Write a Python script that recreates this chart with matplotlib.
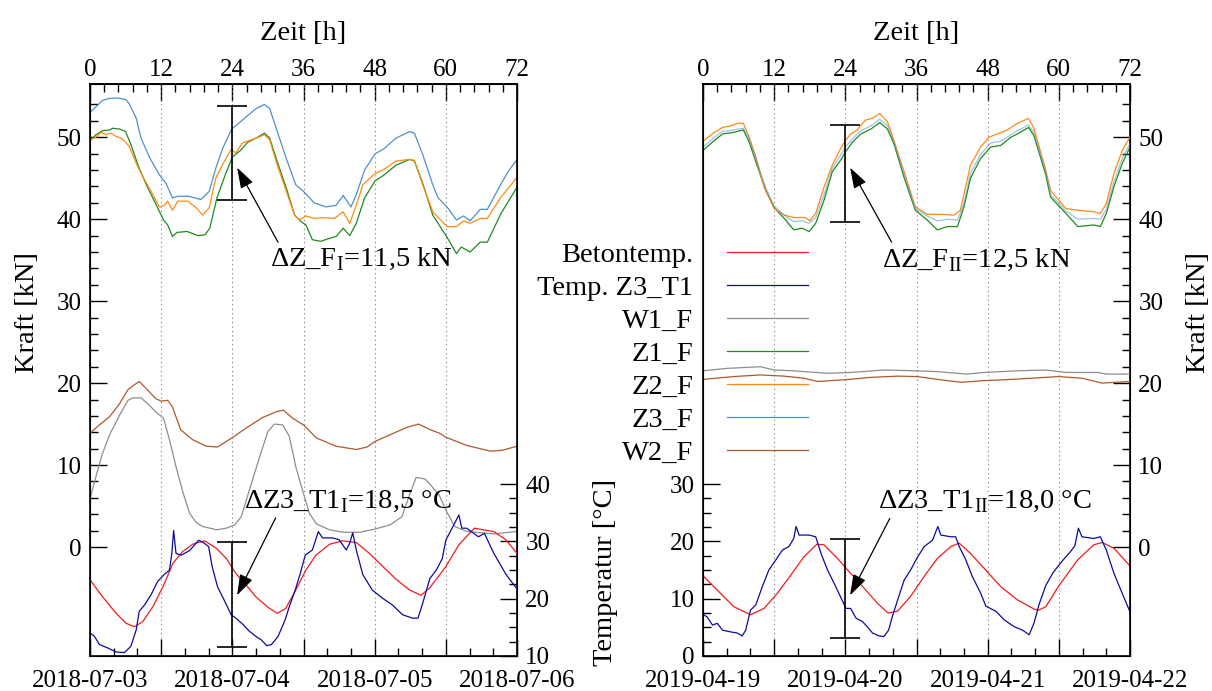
import matplotlib
matplotlib.use("Agg")
import matplotlib.pyplot as plt
from matplotlib.ticker import FixedLocator, MultipleLocator

plt.rcParams['font.family'] = ['Liberation Serif', 'DejaVu Serif']
plt.rcParams['mathtext.fontset'] = 'custom'
plt.rcParams['mathtext.rm'] = 'Liberation Serif'
plt.rcParams['font.size'] = 20.5
TICK_FS = 18

# ---------------------------------------------------------------------------
# data: (hour, value) pairs
# ---------------------------------------------------------------------------
# panel I: 2018-07-03 .. 2018-07-06
L_DATES = ['2018-07-03', '2018-07-04', '2018-07-05', '2018-07-06']
L_BETON = [(0, 23.3), (2.1, 20.35), (4.4, 17.45), (6.1, 15.7), (7.5, 15.1), (8.9, 16.0),
           (10.6, 18.6), (12.3, 22.1), (14, 26.2), (15.6, 28.2), (17.3, 29.5), (19.3, 30.1),
           (21.3, 28.8), (23, 27.0), (24.6, 24.4), (26.3, 22.4), (28, 20.3), (30, 18.5),
           (31.6, 17.45), (33, 18.3), (34.7, 21.5), (36.4, 25.0), (38.1, 27.6), (40.4, 29.5),
           (42.6, 30.1), (44.9, 29.8), (47.1, 27.9), (49.4, 25.6), (51.6, 23.4), (53.9, 21.5),
           (55.8, 20.6), (57.2, 21.8), (58.7, 23.8), (60, 25.6), (62.2, 29.4), (64.8, 32.3),
           (68.1, 31.7), (70.1, 30.3), (72, 27.9)]
L_T1 = [(0, 14.0), (0.7, 13.5), (1.6, 12.0), (3, 11.4), (4.4, 10.7), (5.8, 10.6), (6.9, 11.7),
        (7.8, 14.6), (8.3, 17.8), (9.2, 18.9), (10.3, 20.7), (11.4, 23.0), (12.5, 24.2),
        (13.4, 25.0), (13.8, 27.9), (14.1, 31.9), (14.5, 27.9), (15.4, 27.6), (16.8, 28.4),
        (18.3, 30.2), (19.1, 29.8), (20, 29.1), (20.6, 25.6), (21.5, 22.1), (22.6, 19.8),
        (23.8, 17.2), (24.6, 16.6), (25.8, 15.5), (26.9, 14.3), (28, 13.4), (28.9, 12.8),
        (29.8, 11.8), (30.6, 12.0), (31.7, 13.4), (32.9, 16.3), (33.7, 18.9), (34.6, 21.5),
        (35.4, 24.2), (36.3, 27.6), (37.5, 28.5), (38.5, 31.7), (39.2, 30.6), (40.9, 30.6),
        (42, 30.3), (43.2, 28.5), (43.8, 29.7), (44.3, 31.5), (44.9, 28.5), (46, 24.2),
        (47.6, 21.5), (49.3, 20.1), (51, 18.9), (52.7, 17.2), (54.4, 16.6), (55.3, 16.6),
        (56.1, 19.2), (57.3, 23.5), (58.4, 25.0), (59.4, 27.0), (60, 30.2), (62.2, 34.6),
        (62.7, 32.3), (63.5, 32.3), (65.5, 30.8), (66.5, 31.4), (68.1, 27.9), (70.1, 24.3),
        (72, 21.7)]
L_W1F = [(0, 5.9), (1, 8.6), (2.1, 11.4), (3.3, 13.7), (5, 16.1), (6.4, 17.9), (7.2, 18.2),
         (8.6, 18.2), (9.7, 17.5), (11.1, 16.5), (12.4, 15.7), (13.4, 13.1), (14.5, 9.8),
         (15.7, 6.6), (16.8, 4.1), (17.9, 3.0), (19, 2.5), (21.4, 2.1), (23, 2.3), (24.4, 2.7),
         (25.5, 3.7), (26.9, 7.0), (28.6, 11.0), (30, 14.1), (31.1, 15.0), (32.5, 14.9),
         (33.6, 13.5), (34.7, 9.8), (35.8, 7.0), (37, 4.1), (38.2, 2.8), (40.4, 2.1),
         (42.7, 1.8), (45.5, 1.8), (48.1, 2.2), (50.6, 2.7), (52.6, 3.7), (54, 6.6), (55, 8.5),
         (56.5, 8.3), (57.4, 7.6), (58.9, 6.3), (60, 4.5), (61.5, 2.5), (63.5, 1.9),
         (68.1, 1.6), (72, 1.9)]
L_Z1F = [(0, 49.6), (1, 50.3), (2.1, 50.8), (3.3, 50.9), (3.8, 51.1), (5, 51.0), (6, 50.7),
         (6.9, 49.1), (8.1, 46.6), (9.5, 44.2), (11.2, 41.7), (12.4, 39.9), (13.1, 39.3),
         (13.9, 37.9), (14.7, 38.4), (16.4, 38.5), (18.2, 38.0), (19.4, 38.1), (20.2, 38.9),
         (21.4, 42.6), (22.8, 45.4), (24, 47.6), (25.4, 48.4), (26.6, 49.4), (28, 49.9),
         (29.4, 50.5), (30.3, 49.9), (31.4, 47.4), (33.1, 43.8), (34.5, 40.5), (35.6, 39.7),
         (36.4, 39.3), (37.5, 37.5), (38.9, 37.3), (40.1, 37.6), (41.5, 37.9), (42.7, 38.9),
         (43.8, 38.0), (44.9, 39.5), (46.3, 42.6), (48.1, 44.7), (49.4, 45.3), (51.6, 46.6),
         (53.9, 47.3), (54.7, 47.1), (56.1, 44.4), (57.8, 40.5), (60.2, 37.8), (61.8, 35.8),
         (62.6, 36.6), (64.1, 36.0), (65.8, 37.2), (67, 37.2), (69.3, 40.7), (72, 43.9)]
L_Z2F = [(0, 49.7), (1, 50.0), (1.9, 50.6), (2.7, 50.3), (3.5, 50.5), (4.4, 50.1), (5.5, 49.8),
         (6.6, 48.9), (7.8, 46.8), (8.9, 45.2), (10.3, 43.4), (11.7, 41.5), (12.5, 41.7),
         (13.1, 42.2), (13.9, 41.1), (14.8, 42.2), (16.5, 42.2), (17.9, 41.4), (19, 40.5),
         (20.1, 41.4), (21.2, 45.0), (22.6, 47.0), (23.8, 48.5), (24.6, 48.1), (25.7, 49.3),
         (28, 49.9), (29.4, 50.3), (30.3, 49.7), (31.4, 47.0), (33.1, 43.4), (34.5, 40.5),
         (35.3, 39.9), (36.4, 40.4), (37.8, 40.1), (39.2, 40.2), (41.2, 40.1), (42.7, 40.9),
         (43.8, 39.5), (44.9, 41.7), (46, 44.2), (48.1, 45.6), (49.4, 46.0), (51.6, 47.1),
         (53.9, 47.3), (54.7, 47.2), (56.1, 44.2), (57.8, 40.9), (60.2, 39.1), (61.8, 39.1),
         (63, 39.8), (64.1, 39.5), (65.8, 40.1), (67, 40.1), (69.3, 42.7), (72, 45.1)]
L_Z3F = [(0, 53.0), (1, 53.7), (2.1, 54.5), (3.3, 54.75), (4.7, 54.8), (6, 54.6), (6.6, 54.1),
         (7.8, 52.3), (8.6, 49.9), (10, 47.6), (11.7, 45.4), (12.8, 44.4), (13.9, 42.6),
         (14.8, 42.8), (16.7, 42.8), (18.7, 42.4), (20.1, 43.4), (21.2, 46.2), (22.4, 48.7),
         (23.9, 51.0), (25.7, 52.1), (28, 53.5), (29.4, 54.0), (30.3, 53.5), (31.4, 51.1),
         (33.1, 47.4), (34.7, 44.2), (36, 43.4), (37.8, 42.0), (39.8, 41.5), (41.5, 41.7),
         (42.7, 42.9), (44, 41.5), (44.9, 43.0), (46.3, 46.0), (48.1, 48.0), (49.4, 48.5),
         (51.6, 49.9), (53.9, 50.7), (54.7, 50.5), (56.1, 47.9), (57.8, 44.2), (58.7, 42.6),
         (60.2, 41.5), (61.8, 39.9), (63, 40.4), (64.1, 39.8), (65.8, 41.2), (67, 41.2),
         (69.3, 44.3), (70.5, 45.8), (72, 47.3)]
L_W2F = [(0, 13.9), (1.6, 14.9), (3.3, 15.9), (5, 17.5), (6.4, 19.2), (7.5, 19.8), (8.3, 20.2),
         (9.4, 19.4), (11.1, 18.1), (12, 17.8), (13.1, 17.9), (13.9, 17.1), (15.3, 14.3),
         (17.3, 13.1), (19.6, 12.3), (21.5, 12.2), (23.9, 13.3), (26.3, 14.5), (29.1, 15.8),
         (31.4, 16.5), (32.6, 16.7), (34.2, 15.7), (36, 14.9), (38.2, 13.3), (41.5, 12.3),
         (44.9, 11.9), (46.7, 12.2), (48.1, 12.9), (50.6, 13.7), (53.4, 14.6), (55.4, 15.0),
         (57.4, 14.3), (58.9, 13.9), (60, 13.4), (63.5, 12.4), (67.5, 11.7), (69.5, 11.8),
         (72, 12.3)]

# panel II: 2019-04-19 .. 2019-04-22
R_DATES = ['2019-04-19', '2019-04-20', '2019-04-21', '2019-04-22']
R_BETON = [(0, 14.0), (2.4, 11.5), (5.2, 8.6), (8, 7.2), (10.3, 8.3), (12.5, 10.9), (14.8, 14.1),
           (17, 17.3), (19.2, 19.5), (20.4, 19.4), (22.7, 17.0), (24.9, 14.4), (27.2, 11.8),
           (29.4, 9.2), (31.2, 7.5), (32.8, 7.8), (35, 10.4), (37.3, 13.9), (39.5, 17.0),
           (41.8, 19.1), (43.2, 19.7), (45.1, 17.9), (47.4, 15.3), (50.2, 12.1), (53, 9.8),
           (55.8, 8.2), (56.6, 8.0), (57.8, 8.6), (59.9, 12.1), (63.2, 16.8), (65.9, 19.4),
           (67.3, 19.8), (69.3, 18.8), (72, 15.7)]
R_T1 = [(0, 7.3), (0.7, 6.8), (1.6, 5.4), (2.4, 5.7), (3.3, 4.5), (4.7, 4.2), (5.8, 4.0),
        (6.6, 3.5), (7.2, 4.5), (8, 8.0), (8.9, 8.9), (10, 12.1), (11.1, 15.0), (12.3, 16.8),
        (13.4, 18.5), (14.5, 19.1), (15.3, 20.5), (15.7, 22.6), (16.2, 21.1), (17.9, 21.1),
        (19, 20.8), (19.9, 17.9), (21, 15.0), (22.1, 12.7), (23.2, 10.3), (24.1, 8.3),
        (24.9, 8.3), (25.8, 6.6), (26.9, 6.0), (27.7, 5.1), (28.6, 4.0), (29.7, 3.5),
        (30.5, 3.4), (31.3, 4.5), (31.9, 6.8), (32.8, 9.7), (33.9, 13.2), (35, 15.0),
        (36.2, 17.3), (37.3, 19.1), (38.7, 20.2), (39.6, 22.6), (40.1, 21.1), (41.8, 20.8),
        (42.6, 20.8), (43.2, 19.1), (44.3, 16.8), (45.4, 13.9), (46.8, 11.0), (47.7, 8.7),
        (49.4, 7.8), (50.8, 6.3), (52.5, 5.1), (53.9, 4.5), (55, 3.7), (55.8, 5.7),
        (56.7, 9.1), (57.8, 12.3), (59, 14.5), (60.5, 16.5), (61.8, 18.0), (62.7, 19.2),
        (63.3, 22.3), (63.9, 20.8), (65.9, 20.5), (67, 20.8), (68, 18.5), (69.3, 14.4),
        (70.7, 10.9), (72, 7.7)]
R_W1F = [(0, 21.5), (4.1, 21.8), (9.7, 22.0), (12, 21.6), (15.3, 21.5), (20.9, 21.2),
         (24.9, 21.3), (30.5, 21.6), (36.1, 21.5), (39.5, 21.4), (44.5, 21.1), (47.4, 21.3),
         (53, 21.5), (57.8, 21.6), (61.2, 21.3), (66.6, 21.3), (68, 21.1), (72, 21.1)]
R_Z1F = [(0, 48.4), (1.9, 49.6), (3.3, 50.4), (5.2, 50.6), (6.8, 50.9), (7.8, 49.4), (9.2, 46.4),
         (10.6, 43.5), (12, 41.4), (13.7, 40.1), (15.3, 38.7), (16.7, 38.9), (17.9, 38.5),
         (19, 39.5), (20.4, 42.3), (21.8, 45.8), (23.2, 47.2), (24, 48.2), (25.2, 49.4),
         (26.6, 50.4), (28.3, 51.0), (29.8, 51.8), (31.1, 51.0), (32.2, 49.2), (33.9, 45.1),
         (35.8, 41.1), (37.8, 39.9), (39.5, 38.7), (41.2, 39.1), (42.9, 39.1), (44, 41.5),
         (45.1, 45.0), (46.8, 47.4), (48.5, 48.8), (50.2, 49.0), (51.9, 50.0), (53, 50.4),
         (54.9, 51.2), (55.8, 50.2), (57.8, 45.4), (58.6, 42.7), (61.2, 40.7), (63.2, 39.1),
         (65.9, 39.3), (67, 39.1), (68, 40.7), (69.3, 44.0), (70.7, 46.8), (72, 48.8)]
R_Z2F = [(0, 49.5), (1.9, 50.6), (3.3, 51.2), (4.7, 51.4), (5.8, 51.7), (6.8, 51.7), (7.8, 50.0),
         (8.9, 47.6), (10.3, 43.9), (12, 41.3), (13.7, 40.5), (15.3, 40.2), (17.3, 40.2),
         (18, 39.8), (19, 40.7), (20.4, 43.9), (21.8, 46.6), (23.2, 48.6), (24, 49.6),
         (24.9, 50.4), (26, 50.9), (27.4, 52.1), (28.5, 52.3), (29.8, 52.9), (31.1, 51.9),
         (32.2, 49.6), (33.9, 45.8), (35.8, 41.5), (37.8, 40.6), (40.1, 40.6), (42.3, 40.5),
         (43.4, 41.1), (45.1, 46.6), (46.8, 48.8), (48.2, 50.0), (49.6, 50.4), (51.3, 50.9),
         (53, 51.7), (54.9, 52.3), (55.8, 51.1), (57.8, 46.0), (58.6, 43.5), (61.2, 41.3),
         (63.2, 41.1), (65.9, 40.9), (67, 40.7), (68, 41.9), (69.3, 45.6), (70.7, 48.4),
         (72, 50.0)]
R_Z3F = [(0, 48.8), (1.9, 50.0), (3.3, 50.7), (5.2, 50.9), (6.8, 51.1), (7.8, 49.8), (9.2, 46.8),
         (10.6, 43.8), (12, 41.6), (13.7, 40.5), (15.3, 39.7), (16.7, 39.8), (17.9, 39.5),
         (19, 40.2), (20.4, 43.0), (21.8, 46.2), (23.2, 47.8), (24, 48.8), (25.2, 49.8),
         (26.6, 50.8), (28.3, 51.4), (29.8, 52.2), (31.1, 51.4), (32.2, 49.4), (33.9, 45.4),
         (35.8, 41.3), (37.8, 40.4), (39.5, 39.8), (41.2, 40.0), (42.9, 39.9), (44, 41.9),
         (45.1, 45.6), (46.8, 47.9), (48.5, 49.3), (50.2, 49.5), (51.9, 50.3), (53, 50.8),
         (54.9, 51.5), (55.8, 50.6), (57.8, 45.7), (58.6, 43.0), (61.2, 41.0), (63.2, 40.0),
         (65.9, 40.1), (67, 40.0), (68, 41.2), (69.3, 44.6), (70.7, 47.4), (72, 49.2)]
R_W2F = [(0, 20.45), (5.2, 20.8), (9.7, 21.0), (13.7, 20.85), (17, 20.6), (19.3, 20.2),
         (23.7, 20.4), (28.3, 20.7), (32.8, 20.85), (36.1, 20.8), (40.1, 20.4), (43.5, 20.1),
         (47.4, 20.3), (51.9, 20.45), (57.8, 20.7), (59.9, 20.8), (63.9, 20.6), (67.3, 20.0),
         (72, 20.2)]

# amplitude markers at t = 24 h (low, high)
L_F_RANGE, L_T_RANGE = (42.3, 53.8), (11.6, 29.9)
R_F_RANGE, R_T_RANGE = (39.7, 51.5), (3.1, 20.4)
L_F_TEXT = r'ΔZ_F$_{\mathrm{I}}$=11,5 kN'
L_T_TEXT = r'ΔZ3_T1$_{\mathrm{I}}$=18,5 °C'
R_F_TEXT = r'ΔZ_F$_{\mathrm{II}}$=12,5 kN'
R_T_TEXT = r'ΔZ3_T1$_{\mathrm{II}}$=18,0 °C'

LABELS = ['Betontemp.', 'Temp. Z3_T1', 'W1_F', 'Z1_F', 'Z2_F', 'Z3_F', 'W2_F']
COLORS = ['#f01c1c', '#0c0c9c', '#8e8e8e', '#1f8a1f', '#ff8a14', '#4f8fcf', '#b0582c']

HOURS_MAJOR = list(range(0, 73, 12))
FORCE_MAJOR = [0, 10, 20, 30, 40, 50]
FORCE_MINOR = list(range(0, 55, 2))
F_LIM = (-13.3, 56.5)


def split(pairs):
    h, v = zip(*pairs)
    return list(h), list(v)


W, H = 1212, 691
fig = plt.figure(figsize=(W / 100, H / 100), dpi=100)


def box(x0, x1, y0=84, y1=656):
    return [x0 / W, 1 - y1 / H, (x1 - x0) / W, (y1 - y0) / H]


TICK = dict(direction='in', width=1.0, labelsize=TICK_FS)


def setup_time(ax, dates):
    ax.set_xlim(0, 72)
    ax.set_xticks(HOURS_MAJOR)
    ax.set_xticklabels([dates[h // 24] if h % 24 == 0 else '' for h in HOURS_MAJOR])
    ax.xaxis.set_minor_locator(MultipleLocator(4))
    ax.tick_params(axis='x', which='major', length=12, pad=10, **TICK)
    ax.tick_params(axis='x', which='minor', length=6, **TICK)
    ax.grid(axis='x', ls=(0, (1, 3)), color='#7a7a7a', lw=0.8)
    top = ax.secondary_xaxis('top')
    top.set_xticks(HOURS_MAJOR)
    top.xaxis.set_minor_locator(MultipleLocator(2.4))
    top.tick_params(axis='x', which='major', length=12, pad=2, **TICK)
    top.tick_params(axis='x', which='minor', length=6, **TICK)
    top.set_xlabel('Zeit [h]', labelpad=14)
    top.spines['top'].set_linewidth(1.2)
    for sp in ax.spines.values():
        sp.set_linewidth(1.2)


def setup_y(ax, lim, major, minor):
    ax.set_ylim(lim)
    ax.yaxis.set_major_locator(FixedLocator(major))
    ax.yaxis.set_minor_locator(FixedLocator(minor))
    ax.tick_params(axis='y', which='major', length=12, pad=6, **TICK)
    ax.tick_params(axis='y', which='minor', length=6, **TICK)


def amplitude(ax, rng, head, tail, text_xy, text):
    lo, hi = rng
    ax.errorbar([24], [(lo + hi) / 2], yerr=[(hi - lo) / 2], fmt='none', ecolor='k',
                elinewidth=1.2, capsize=10.8, capthick=1.2, zorder=5)
    ax.annotate('', xy=head, xytext=tail,
                arrowprops=dict(arrowstyle='-|>,head_length=0.85,head_width=0.28',
                                color='k', lw=0.9, shrinkA=0, shrinkB=0, mutation_scale=15))
    ax.text(text_xy[0], text_xy[1], text, va='center', ha='left')


def draw(ax_f, ax_t, series, z3_alpha=1.0):
    lines = []
    for i, data in enumerate(series):
        h, v = split(data)
        target = ax_t if i < 2 else ax_f
        alpha = z3_alpha if LABELS[i] == 'Z3_F' else 1.0
        ln, = target.plot(h, v, color=COLORS[i], lw=0.9, alpha=alpha)
        lines.append(ln)
    return lines


# ---------------- panel I ----------------
axL = fig.add_axes(box(90, 517))
setup_time(axL, L_DATES)
setup_y(axL, F_LIM, FORCE_MAJOR, FORCE_MINOR)
axL.set_ylabel('Kraft [kN]')
axL.yaxis.set_label_coords(-0.117, 0.6)
axLt = axL.twinx()
setup_y(axLt, (10, 109.8), [10, 20, 30, 40], [10 + 2.5 * i for i in range(13)])
linesL = draw(axL, axLt, [L_BETON, L_T1, L_W1F, L_Z1F, L_Z2F, L_Z3F, L_W2F])
amplitude(axL, L_F_RANGE, (24.8, 46.3), (31.7, 37.2), (30.3, 35.1), L_F_TEXT)
amplitude(axLt, L_T_RANGE, (24.8, 20.6), (31.3, 34.1), (26.0, 36.9), L_T_TEXT)

# ---------------- panel II ----------------
axR = fig.add_axes(box(703, 1130))
setup_time(axR, R_DATES)
setup_y(axR, (0, 99.8), [0, 10, 20, 30], [2.5 * i for i in range(13)])
axRf = axR.twinx()
setup_y(axRf, F_LIM, FORCE_MAJOR, FORCE_MINOR)
axRf.set_ylabel('Kraft [kN]')
axRf.yaxis.set_label_coords(1.13, 0.6)
draw(axRf, axR, [R_BETON, R_T1, R_W1F, R_Z1F, R_Z2F, R_Z3F, R_W2F], z3_alpha=0.55)
amplitude(axRf, R_F_RANGE, (24.8, 46.3), (31.8, 37.2), (30.2, 35.0), R_F_TEXT)
amplitude(axR, R_T_RANGE, (24.8, 10.6), (31.5, 24.0), (29.5, 26.9), R_T_TEXT)

fig.text(606 / W, 1 - 572 / H, 'Temperatur [°C]', rotation=90, ha='center', va='center')

fig.legend(linesL, LABELS, loc='upper right', bbox_to_anchor=(808 / W, 1 - 242 / H),
           markerfirst=False, frameon=False, handlelength=2.84, handletextpad=1.19,
           labelspacing=0.25, borderpad=0, borderaxespad=0)

fig.savefig('out.png', dpi=100)
